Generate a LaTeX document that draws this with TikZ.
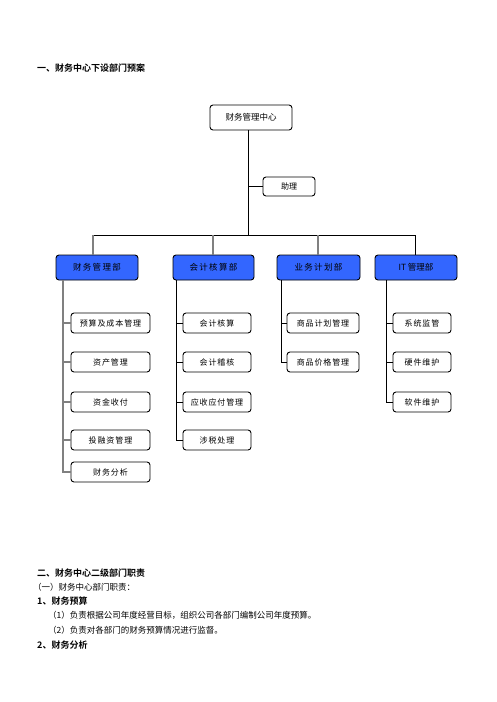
\documentclass[tikz,border=0pt]{standalone}
\usepackage{fontspec}
\newfontfamily\cjk[BoldFont={Noto Sans CJK SC Bold}]{Noto Sans CJK SC}
\newfontfamily\cjksp[LetterSpace=16]{Noto Sans CJK SC}
\newfontfamily\cjkch[LetterSpace=11]{Noto Sans CJK SC}
\definecolor{deptblue}{RGB}{51,102,255}
\tikzset{
  box/.style={draw=black, line width=0.9pt, rounded corners=3pt, align=center, inner sep=0pt, font=\cjk\fontsize{8}{9}\selectfont},
  dept/.style={box, fill=deptblue, minimum height=25pt, font=\cjksp\fontsize{8.5}{10}\selectfont},
  child/.style={box, fill=white, minimum height=20pt, font=\cjkch\fontsize{8}{9}\selectfont},
  link/.style={line width=0.9pt, draw=black},
  glink/.style={line width=1.4pt, draw=gray},
  txt/.style={anchor=west, inner sep=0pt, font=\cjk\fontsize{8.5}{10}\selectfont},
  htxt/.style={anchor=west, inner sep=0pt, font=\cjk\bfseries\fontsize{9}{10}\selectfont}
}
\begin{document}
\begin{tikzpicture}[x=1pt,y=-1pt]
\path[use as bounding box, fill=white] (0,0) rectangle (496,702);

\node[htxt] (t1) at (37,68) {一、财务中心下设部门预案};

\node[box, minimum width=82pt, minimum height=25pt, font=\cjk\fontsize{8.5}{10}\selectfont] (top) at (251,117.5) {财务管理中心};
\node[box, minimum width=52pt, minimum height=19pt] (asst) at (289,186.5) {助理};

\node[dept, minimum width=82pt] (d1) at (97,267.5) {财务管理部};
\node[dept, minimum width=81pt] (d2) at (213.5,267.5) {会计核算部};
\node[dept, minimum width=83pt] (d3) at (318.5,267.5) {业务计划部};
\node[dept, minimum width=82pt, font=\cjk\fontsize{8.5}{10}\selectfont] (d4) at (416,267.5) {IT 管理部};

\coordinate (tsp) at (248,130);
\coordinate (busL) at (93,235);
\coordinate (busR) at (415,235);
\coordinate (b2) at (213,235);
\coordinate (b3) at (318,235);

\draw[link] (tsp) -- (tsp |- busL);
\draw[link] (tsp |- asst.west) -- (asst.west);
\draw[link] (busL) -- (busR);
\draw[glink] (busL) -- (busL |- d1.north);
\draw[glink] (b2) -- (b2 |- d2.north);
\draw[glink] (b3) -- (b3 |- d3.north);
\draw[link] (busR) -- (busR |- d4.north);

% column 1
\node[child, minimum width=79pt] (c11) at (110.5,323) {预算及成本管理};
\node[child, minimum width=79pt] (c12) at (110.5,362) {资产管理};
\node[child, minimum width=79pt] (c13) at (110.5,402) {资金收付};
\node[child, minimum width=79pt] (c14) at (110.5,440) {投融资管理};
\node[child, minimum width=79pt] (c15) at (110.5,472) {财务分析};
% column 2
\node[child, minimum width=68pt] (c21) at (217,323) {会计核算};
\node[child, minimum width=68pt] (c22) at (217,362) {会计稽核};
\node[child, minimum width=68pt] (c23) at (217,402) {应收应付管理};
\node[child, minimum width=68pt] (c24) at (217,440) {涉税处理};
% column 3
\node[child, minimum width=72pt] (c31) at (323,323) {商品计划管理};
\node[child, minimum width=72pt] (c32) at (323,362) {商品价格管理};
% column 4
\node[child, minimum width=58pt] (c41) at (422,323) {系统监管};
\node[child, minimum width=58pt] (c42) at (422,362) {硬件维护};
\node[child, minimum width=58pt] (c43) at (422,402) {软件维护};

\coordinate (s1) at (63,280);
\coordinate (s2) at (176,280);
\coordinate (s3) at (281,280);
\coordinate (s4) at (386,280);

\draw[glink] (s1) |- (c15.west);
\foreach \c in {c11,c12,c13,c14} \draw[glink] (s1 |- \c.west) -- (\c.west);
\draw[link] (s2) |- (c24.west);
\foreach \c in {c21,c22,c23} \draw[link] (s2 |- \c.west) -- (\c.west);
\draw[link] (s3) |- (c32.west);
\draw[link] (s3 |- c31.west) -- (c31.west);
\draw[link] (s4) |- (c43.west);
\foreach \c in {c41,c42} \draw[link] (s4 |- \c.west) -- (\c.west);

% text section
\node[htxt] (h2) at (37,573) {二、财务中心二级部门职责};
\node[txt] (p1) at (33,587) {（一）财务中心部门职责：};
\node[htxt] (h3) at (37,601) {1、财务预算};
\node[txt] (p2) at (48,615.5) {（1）负责根据公司年度经营目标，组织公司各部门编制公司年度预算。};
\node[txt] (p3) at (48,630) {（2）负责对各部门的财务预算情况进行监督。};
\node[htxt] (h4) at (37,645) {2、财务分析};
\end{tikzpicture}
\end{document}
